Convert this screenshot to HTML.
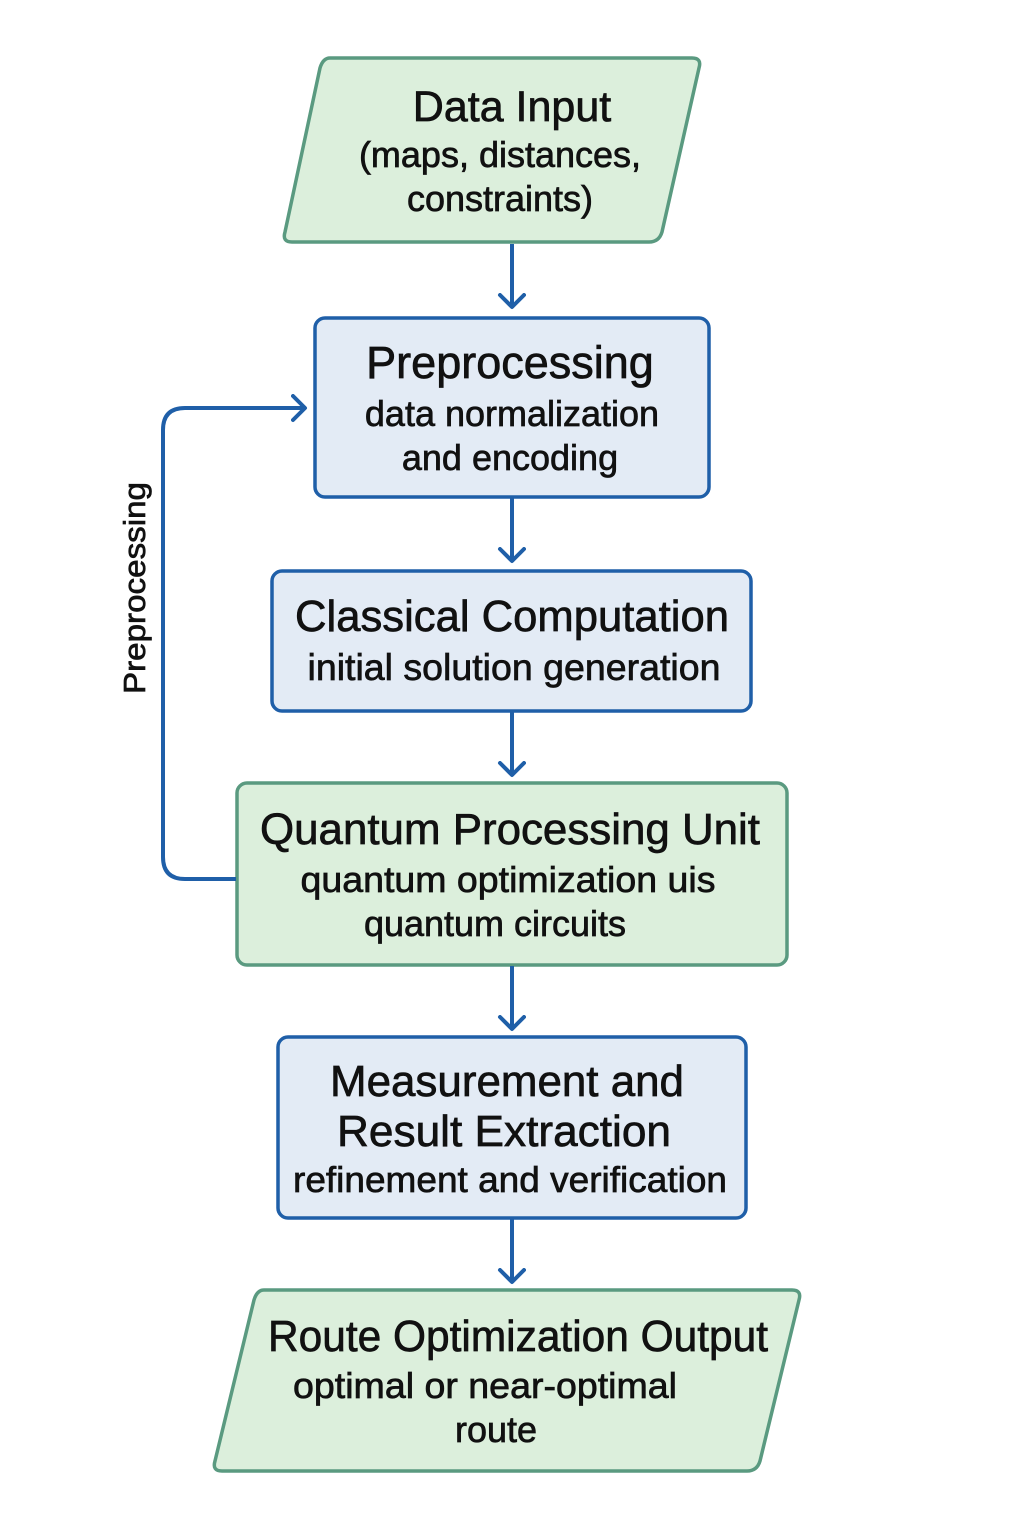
<!DOCTYPE html>
<html><head><style>body{margin:0;background:#fff}svg{display:block}</style></head><body>
<svg width="1024" height="1536" viewBox="0 0 1024 1536" xmlns="http://www.w3.org/2000/svg" font-family="Liberation Sans, DejaVu Sans, sans-serif" fill="#111">
<defs>
<marker id="a" markerWidth="20" markerHeight="30" refX="15" refY="14" orient="auto" markerUnits="userSpaceOnUse"><path d="M2,2 L14,14 L2,26" fill="none" stroke="#1f5fa8" stroke-width="4" stroke-linecap="round" stroke-linejoin="round"/></marker>
</defs>
<g stroke-linejoin="round">
<path d="M330,58 L692,58 Q702,58 699,68 L662,232 Q659,242 649,242 L292,242 Q282,242 285,232 L320,68 Q323,58 330,58Z" fill="#dcefdc" stroke="#5a9a80" stroke-width="3.5"/>
<rect x="315" y="318" width="394" height="179" rx="10" fill="#e3ebf5" stroke="#1f5fa8" stroke-width="3.5"/>
<rect x="272" y="571" width="479" height="140" rx="10" fill="#e3ebf5" stroke="#1f5fa8" stroke-width="3.5"/>
<rect x="237" y="783" width="550" height="182" rx="10" fill="#dcefdc" stroke="#5a9a80" stroke-width="3.5"/>
<rect x="278" y="1037" width="468" height="181" rx="10" fill="#e3ebf5" stroke="#1f5fa8" stroke-width="3.5"/>
<path d="M264,1290 L792,1290 Q802,1290 799,1300 L760,1461 Q757,1471 747,1471 L222,1471 Q212,1471 215,1461 L254,1300 Q257,1290 264,1290Z" fill="#dcefdc" stroke="#5a9a80" stroke-width="3.5"/>
</g>
<g stroke="#1f5fa8" stroke-width="4" fill="none" marker-end="url(#a)">
<line x1="512" y1="244" x2="512" y2="308"/>
<line x1="512" y1="498" x2="512" y2="562"/>
<line x1="512" y1="712" x2="512" y2="776"/>
<line x1="512" y1="966" x2="512" y2="1030"/>
<line x1="512" y1="1219" x2="512" y2="1283"/>
<path d="M236,879 L185,879 Q163,879 163,857 L163,430 Q163,408 185,408 L306,408"/>
</g>
<g text-anchor="middle" stroke="#111" stroke-width="0.7">
<text x="512" y="121" font-size="43">Data Input</text>
<text x="500" y="167" font-size="36">(maps, distances,</text>
<text x="500" y="211" font-size="36">constraints)</text>
<text x="510" y="378" font-size="45">Preprocessing</text>
<text x="512" y="426" font-size="36">data normalization</text>
<text x="510" y="470" font-size="36">and encoding</text>
<text x="512" y="631" font-size="44" textLength="434" lengthAdjust="spacingAndGlyphs">Classical Computation</text>
<text x="514" y="680" font-size="37" textLength="413" lengthAdjust="spacingAndGlyphs">initial solution generation</text>
<text x="510" y="844" font-size="44" textLength="500" lengthAdjust="spacingAndGlyphs">Quantum Processing Unit</text>
<text x="508" y="892" font-size="36" textLength="415" lengthAdjust="spacingAndGlyphs">quantum optimization uis</text>
<text x="495" y="936" font-size="36">quantum circuits</text>
<text x="507" y="1096" font-size="44" textLength="354" lengthAdjust="spacingAndGlyphs">Measurement and</text>
<text x="504" y="1146" font-size="44" textLength="334" lengthAdjust="spacingAndGlyphs">Result Extraction</text>
<text x="510" y="1192" font-size="36" textLength="434" lengthAdjust="spacingAndGlyphs">refinement and verification</text>
<text x="518" y="1351" font-size="44" textLength="500" lengthAdjust="spacingAndGlyphs">Route Optimization Output</text>
<text x="485" y="1398" font-size="36" textLength="384" lengthAdjust="spacingAndGlyphs">optimal or near-optimal</text>
<text x="496" y="1442" font-size="36">route</text>
<text transform="translate(145,588) rotate(-90)" font-size="31" textLength="212" lengthAdjust="spacingAndGlyphs">Preprocessing</text>
</g>
</svg>
</body></html>
